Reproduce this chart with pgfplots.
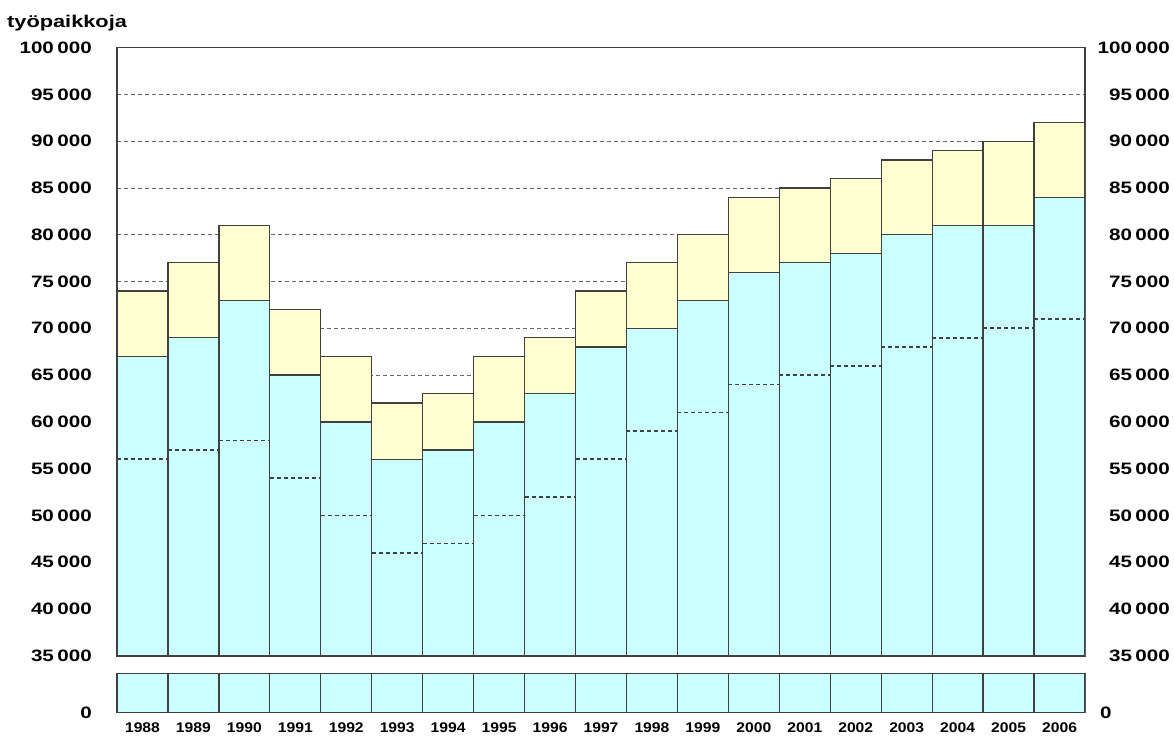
\documentclass[border=0pt]{standalone}
\usepackage{fontspec}
\setmainfont{Liberation Sans}
\usepackage{graphicx}
\usepackage{pgfplots}
\pgfplotsset{compat=1.18}
\usepackage{pgfplotstable}
\definecolor{cy}{HTML}{CCFFFF}
\definecolor{yl}{HTML}{FFFFD2}
\definecolor{edge}{HTML}{404040}
\definecolor{gridc}{HTML}{666666}
\newcommand\lab[1]{\scalebox{1.25}[1]{#1}}
\newcommand\yr[1]{\scalebox{1.12}[1]{#1}}
\pgfplotstableread{
idx cyan total
0 67000 74000
1 69000 77000
2 73000 81000
3 65000 72000
4 60000 67000
5 56000 62000
6 57000 63000
7 60000 67000
8 63000 69000
9 68000 74000
10 70000 77000
11 73000 80000
12 76000 84000
13 77000 85000
14 78000 86000
15 80000 88000
16 81000 89000
17 81000 90000
18 84000 92000
}\data
\begin{document}
\begin{tikzpicture}[x=1pt,y=1pt]
\useasboundingbox (0,0) rectangle (1174,740);
\node[anchor=base west,inner sep=0pt,font=\fontsize{17}{19}\selectfont\bfseries] at (7,712) {\scalebox{1.28}[1]{työpaikkoja}};
\pgfplotsset{common/.style={scale only axis, width=968pt, xmin=-0.5, xmax=18.5,
  enlarge x limits=false, major tick length=0pt, scaled y ticks=false,
  axis line style={line width=1.6pt, draw=edge}, clip mode=individual,
  tick label style={font=\fontsize{16.5}{18}\selectfont\bfseries, inner sep=0pt}}}
\begin{axis}[common, height=608pt, at={(117pt,84.3pt)}, anchor=south west,
  ymin=35000, ymax=100000, xtick=\empty,
  ytick={35000,40000,...,100000},
  yticklabels={\lab{35\,000},\lab{40\,000},\lab{45\,000},\lab{50\,000},\lab{55\,000},\lab{60\,000},\lab{65\,000},\lab{70\,000},\lab{75\,000},\lab{80\,000},\lab{85\,000},\lab{90\,000},\lab{95\,000},\lab{100\,000}},
  yticklabel style={anchor=east, xshift=-25pt},
  ymajorgrids, grid style={dash pattern=on 4pt off 3pt, gridc, line width=1pt},
  unbounded coords=jump]
\addplot[ybar, bar width=1, bar shift=0pt, fill=yl, draw=edge, line width=1.3pt] table[x=idx,y=total]{\data};
\addplot[ybar, bar width=1, bar shift=0pt, fill=cy, draw=edge, line width=1.3pt] table[x=idx,y=cyan]{\data};
\addplot[draw=edge, line width=1.7pt, dash pattern=on 4pt off 3pt] coordinates {
(-0.5,56000) (0.5,56000) (0,nan)
(0.5,57000) (1.5,57000) (1,nan)
(1.5,58000) (2.5,58000) (2,nan)
(2.5,54000) (3.5,54000) (3,nan)
(3.5,50000) (4.5,50000) (4,nan)
(4.5,46000) (5.5,46000) (5,nan)
(5.5,47000) (6.5,47000) (6,nan)
(6.5,50000) (7.5,50000) (7,nan)
(7.5,52000) (8.5,52000) (8,nan)
(8.5,56000) (9.5,56000) (9,nan)
(9.5,59000) (10.5,59000) (10,nan)
(10.5,61000) (11.5,61000) (11,nan)
(11.5,64000) (12.5,64000) (12,nan)
(12.5,65000) (13.5,65000) (13,nan)
(13.5,66000) (14.5,66000) (14,nan)
(14.5,68000) (15.5,68000) (15,nan)
(15.5,69000) (16.5,69000) (16,nan)
(16.5,70000) (17.5,70000) (17,nan)
(17.5,71000) (18.5,71000)
};
\end{axis}
\begin{axis}[common, height=608pt, at={(117pt,84.3pt)}, anchor=south west,
  ymin=35000, ymax=100000, hide x axis, axis y line*=right,
  y axis line style={draw=none},
  ytick={35000,40000,...,100000},
  yticklabels={\lab{35\,000},\lab{40\,000},\lab{45\,000},\lab{50\,000},\lab{55\,000},\lab{60\,000},\lab{65\,000},\lab{70\,000},\lab{75\,000},\lab{80\,000},\lab{85\,000},\lab{90\,000},\lab{95\,000},\lab{100\,000}},
  yticklabel style={anchor=east, xshift=85pt}]
\end{axis}
\begin{axis}[common, height=38.5pt, at={(117pt,27.5pt)}, anchor=south west,
  ymin=0, ymax=30000, ytick={0}, yticklabels={\lab{0}},
  yticklabel style={anchor=east, xshift=-25pt},
  xtick={0,...,18},
  xticklabels={\yr{1988},\yr{1989},\yr{1990},\yr{1991},\yr{1992},\yr{1993},\yr{1994},\yr{1995},\yr{1996},\yr{1997},\yr{1998},\yr{1999},\yr{2000},\yr{2001},\yr{2002},\yr{2003},\yr{2004},\yr{2005},\yr{2006}},
  xticklabel style={font=\fontsize{14}{16}\selectfont\bfseries, anchor=north, yshift=-10pt}]
\addplot[ybar, bar width=1, bar shift=0pt, fill=cy, draw=edge, line width=1.3pt] table[x=idx,y=cyan]{\data};
\node[anchor=west, inner sep=0pt, font=\fontsize{16.5}{18}\selectfont\bfseries] at (rel axis cs:1,0) [xshift=15pt] {\lab{0}};
\end{axis}
\end{tikzpicture}
\end{document}
